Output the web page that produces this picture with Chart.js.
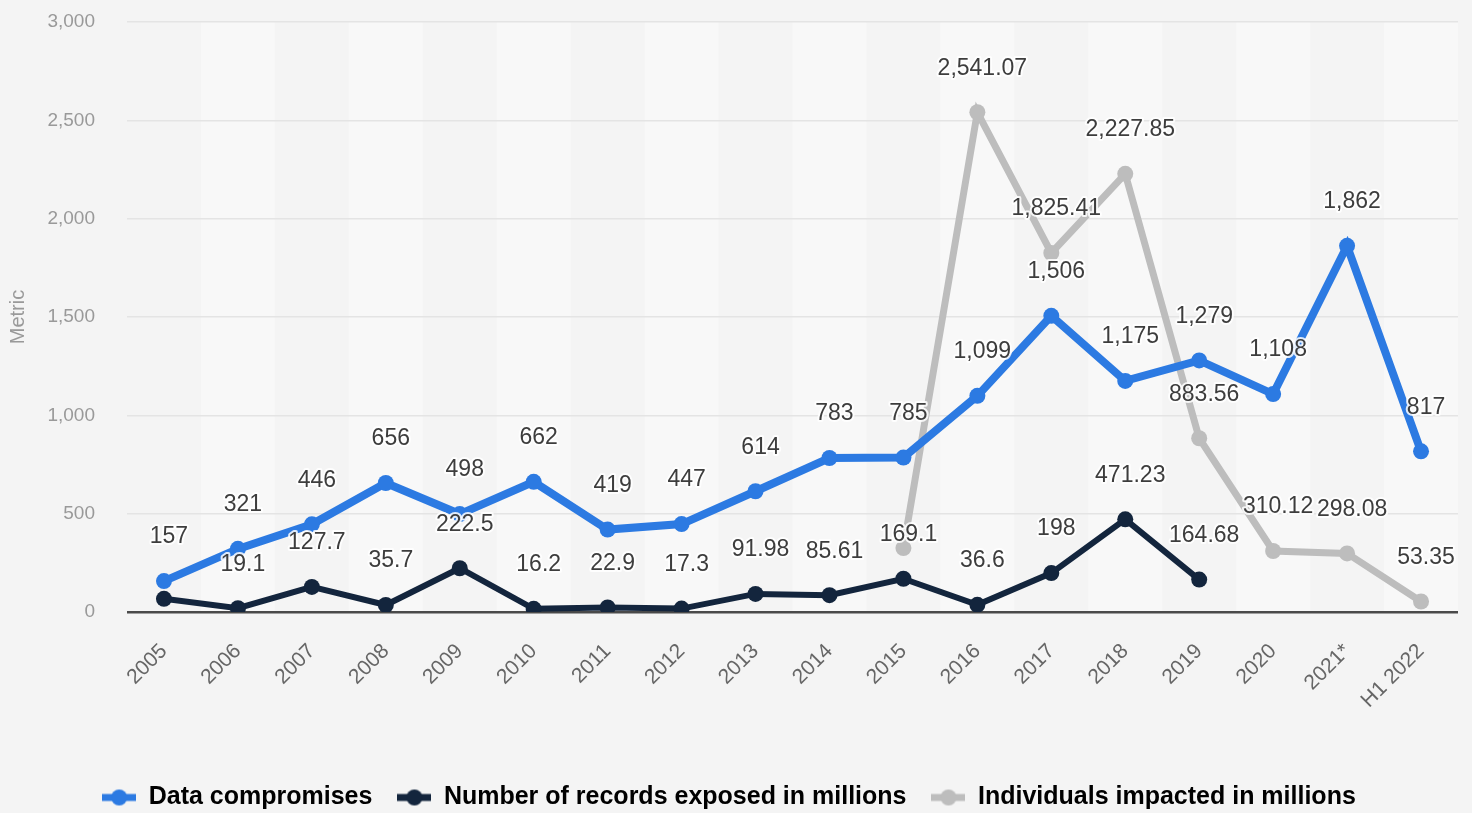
<!DOCTYPE html>
<html>
<head>
<meta charset="utf-8">
<script src="https://cdn.jsdelivr.net/npm/chart.js@4/dist/chart.umd.min.js"></script>
<style>
  html, body { margin: 0; padding: 0; background: #f4f4f4; }
  #wrap { width: 1472px; height: 813px; }
</style>
</head>
<body>
<div id="wrap"><canvas id="chart" width="1472" height="813"></canvas></div>
<script>
// categories
const years = ["2005", "2006", "2007", "2008", "2009", "2010", "2011", "2012", "2013",
  "2014", "2015", "2016", "2017", "2018", "2019", "2020", "2021*", "H1 2022"];

// series values
const dataCompromises = [157, 321, 446, 656, 498, 662, 419, 447, 614, 783, 785, 1099,
  1506, 1175, 1279, 1108, 1862, 817];
const recordsExposed = [66.9, 19.1, 127.7, 35.7, 222.5, 16.2, 22.9, 17.3, 91.98, 85.61,
  169.1, 36.6, 198, 471.23, 164.68, null, null, null];
const individualsImpacted = [null, null, null, null, null, null, null, null, null, null,
  325, 2541.07, 1825.41, 2227.85, 883.56, 310.12, 298.08, 53.35];

// labels that are not shown in the picture (index per series)
const hiddenLabels = [[], [0], [10]];

// y axis ticks
const yMin = 0;
const yMax = 3000;
const yStep = 500;

const colors = ["#2c7ae2", "#13253d", "#bdbdbd"];
const fontFamily = "'Liberation Sans', Arial, sans-serif";

// kleines Bild fuer die Legende: Linie mit Punkt
const legendMarker = (color) => {
  const c = document.createElement("canvas");
  c.width = 34;
  c.height = 18;
  const g = c.getContext("2d");
  g.strokeStyle = color;
  g.lineWidth = 7;
  g.beginPath();
  g.moveTo(0, 9);
  g.lineTo(34, 9);
  g.stroke();
  g.fillStyle = color;
  g.beginPath();
  g.arc(17, 9, 8, 0, Math.PI * 2);
  g.fill();
  return c;
};

const fmt = (v) => v.toLocaleString("en-US", { maximumFractionDigits: 2 });

// abwechselnde Spalten im Hintergrund
const bandPlugin = {
  id: "bands",
  beforeDraw(chart) {
    const { ctx, chartArea, scales } = chart;
    const x = scales.x;
    const w = x.width / years.length;
    ctx.save();
    ctx.fillStyle = "#f8f8f8";
    years.forEach((_, i) => {
      if (i % 2 === 1) {
        const cx = x.getPixelForValue(i);
        ctx.fillRect(cx - w / 2, chartArea.top, w, chartArea.bottom - chartArea.top);
      }
    });
    ctx.restore();
  },
};

// Hoehe der Legende festlegen
const legendHeightPlugin = {
  id: "legendHeight",
  beforeInit(chart) {
    const origFit = chart.legend.fit;
    chart.legend.fit = function () {
      origFit.bind(chart.legend)();
      this.height = 53;
    };
  },
};

// Werte ueber den Punkten
const valueLabelPlugin = {
  id: "valueLabels",
  afterDatasetsDraw(chart) {
    const ctx = chart.ctx;
    ctx.save();
    ctx.font = "23px " + fontFamily;
    ctx.textAlign = "center";
    ctx.textBaseline = "middle";
    ctx.lineJoin = "round";
    chart.data.datasets.forEach((ds, di) => {
      const meta = chart.getDatasetMeta(di);
      meta.data.forEach((pt, i) => {
        const v = ds.data[i];
        if (v === null || hiddenLabels[di].includes(i)) return;
        const text = fmt(v);
        const tx = pt.x + 5;
        const ty = pt.y - 44;
        ctx.strokeStyle = "rgba(255,255,255,0.85)";
        ctx.lineWidth = 4;
        ctx.strokeText(text, tx, ty);
        ctx.fillStyle = "#3d3d3d";
        ctx.fillText(text, tx, ty);
      });
    });
    ctx.restore();
  },
};

const makeSet = (label, data, color, width, radius) => ({
  label: label,
  data: data,
  borderColor: color,
  backgroundColor: color,
  borderWidth: width,
  pointRadius: radius,
  pointHoverRadius: radius,
  pointBackgroundColor: color,
  pointBorderWidth: 0,
  tension: 0,
  spanGaps: false,
});

const canvas = document.getElementById("chart");
new Chart(canvas, {
  type: "line",
  data: {
    labels: years,
    datasets: [
      makeSet("Data compromises", dataCompromises, colors[0], 8, 8),
      makeSet("Number of records exposed in millions", recordsExposed, colors[1], 6, 8),
      makeSet("Individuals impacted in millions", individualsImpacted, colors[2], 7, 8),
    ],
  },
  options: {
    responsive: false,
    animation: false,
    layout: { padding: { top: 22, right: 14, left: 0, bottom: 0 } },
    plugins: {
      tooltip: { enabled: false },
      legend: {
        position: "bottom",
        labels: {
          usePointStyle: true,
          pointStyleWidth: 34,
          padding: 25,
          color: "#333333",
          font: { family: fontFamily, size: 25, weight: "bold" },
          generateLabels(chart) {
            return chart.data.datasets.map((ds, i) => ({
              text: ds.label,
              fillStyle: ds.borderColor,
              strokeStyle: ds.borderColor,
              lineWidth: 0,
              pointStyle: legendMarker(ds.borderColor),
              hidden: false,
              datasetIndex: i,
            }));
          },
        },
      },
    },
    scales: {
      x: {
        offset: true,
        grid: { display: false, drawTicks: false },
        border: { display: false },
        ticks: {
          minRotation: 45,
          maxRotation: 45,
          padding: 27,
          color: "#666666",
          font: { family: fontFamily, size: 21 },
          autoSkip: false,
        },
        afterFit(scale) {
          scale.height = 148;
        },
      },
      y: {
        min: yMin,
        max: yMax,
        border: { display: false },
        grid: {
          drawTicks: true,
          tickLength: 28,
          tickColor: "rgba(0,0,0,0)",
          color: (c) => (c.tick && c.tick.value === 0 ? "#4a4a4a" : "#e4e4e4"),
          lineWidth: (c) => (c.tick && c.tick.value === 0 ? 2.5 : 1.5),
        },
        ticks: {
          stepSize: yStep,
          padding: 4,
          color: "#999999",
          font: { family: fontFamily, size: 19 },
        },
        title: {
          display: true,
          text: "Metric",
          color: "#999999",
          padding: { top: 6, bottom: 0 },
          font: { family: fontFamily, size: 20 },
        },
        afterFit(scale) {
          scale.width = 127;
        },
      },
    },
  },
  plugins: [bandPlugin, legendHeightPlugin, valueLabelPlugin],
});
</script>
</body>
</html>
